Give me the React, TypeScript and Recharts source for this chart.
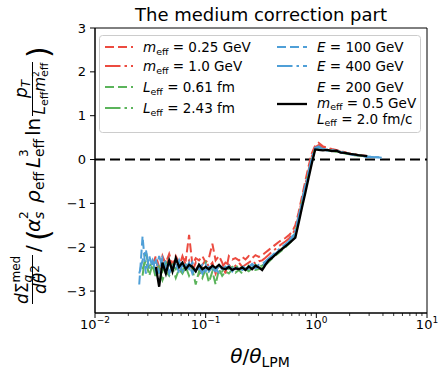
import React from 'react';
import { LineChart, Line, XAxis, YAxis, ReferenceLine, ReferenceArea, Legend } from 'recharts';

// theta / theta_LPM grid (log spaced bins)
const theta = [
  0.0251, 0.0269, 0.0288, 0.0309, 0.0331, 0.0355, 0.038, 0.0407, 0.0437, 0.0468,
  0.0501, 0.0537, 0.0575, 0.0617, 0.0661, 0.0708, 0.0759, 0.0813, 0.0871, 0.0933,
  0.1, 0.107, 0.115, 0.123, 0.132, 0.141, 0.151, 0.162, 0.174, 0.186,
  0.2, 0.214, 0.229, 0.245, 0.263, 0.282,
  0.302, 0.324, 0.347, 0.372, 0.398, 0.427, 0.457, 0.49, 0.525, 0.562,
  0.603, 0.646, 0.692, 0.741, 0.794, 0.851, 0.912, 0.977, 1.047,
  1.148, 1.259, 1.38, 1.514, 1.66, 1.82, 1.995, 2.188, 2.399, 2.63, 2.884,
  3.2, 3.55, 3.9,
];

const mEff025 = [
  null, null, null, null, -2.4, -2.2, -2.45, -2.25, -2.35, -2.15,
  -2.4, -2.2, -2.35, -2.25, -2.3, -1.72, -2.4, -2.25, -2.3, -2.2,
  -2.35, -2.25, -1.92, -2.3, -2.2, -2.35, -2.6, -2.2, -2.28, -2.25,
  -2.3, -2.22, -2.28, -2.2, -2.25, -2.18,
  -2.22, -2.18, -2.12, -2.06, -2.0, -1.94, -1.88, -1.83, -1.79, -1.73,
  -1.65, -1.5, -1.2, -0.85, -0.5, -0.15, 0.15, 0.32, 0.38,
  0.3, 0.27, 0.24, 0.22, 0.2, 0.16, 0.14, 0.12, 0.1, 0.08, 0.07,
  null, null, null,
];

const mEff10 = [
  null, null, null, null, null, -2.3, -2.55, -2.2, -2.4, -2.25,
  -2.5, -2.3, -2.45, -2.2, -2.4, -2.3, -2.55, -2.35, -2.6, -2.4,
  -2.3, -2.45, -2.35, -2.6, -2.4, -2.45, -2.35, -2.4, -2.5, -2.42,
  -2.35, -2.45, -2.4, -2.35, -2.3, -2.38,
  -2.32, -2.3, -2.24, -2.17, -2.1, -2.04, -1.98, -1.92, -1.87, -1.81,
  -1.72, -1.58, -1.28, -0.92, -0.58, -0.24, 0.08, 0.28, 0.33,
  0.28, 0.25, 0.22, 0.2, 0.18, 0.16, 0.14, 0.12, 0.1, 0.09, 0.08,
  null, null, null,
];

const lEff061 = [
  null, -2.5, -2.3, -2.65, -2.4, -2.7, -2.5, -2.75, -2.55, -2.65,
  -2.45, -2.7, -2.5, -2.6, -2.45, -2.65, -2.5, -2.85, -2.55, -2.7,
  -2.5, -2.8, -2.55, -2.85, -2.5, -2.65, -2.55, -2.6, -2.5, -2.58,
  -2.52, -2.6, -2.5, -2.55, -2.48, -2.52,
  -2.5, -2.47, -2.4, -2.33, -2.26, -2.19, -2.13, -2.07, -2.0, -1.93,
  -1.85, -1.72, -1.4, -1.05, -0.7, -0.36, -0.02, 0.22, 0.26,
  0.23, 0.2, 0.2, 0.18, 0.16, 0.14, 0.12, 0.1, 0.09, 0.08, 0.07,
  null, null, null,
];

const lEff243 = [
  null, -2.65, -2.1, -2.5, -2.3, -2.6, -2.4, -2.55, -2.35, -2.6,
  -2.4, -2.5, -2.35, -2.55, -2.4, -2.5, -2.45, -2.55, -2.4, -2.5,
  -2.35, -2.55, -2.45, -2.5, -2.4, -2.55, -2.45, -2.5, -2.45, -2.4,
  -2.5, -2.45, -2.52, -2.42, -2.48, -2.4,
  -2.44, -2.42, -2.36, -2.29, -2.23, -2.16, -2.1, -2.03, -1.97, -1.91,
  -1.82, -1.66, -1.33, -0.98, -0.63, -0.3, 0.03, 0.24, 0.27,
  0.24, 0.21, 0.22, 0.19, 0.17, 0.15, 0.13, 0.11, 0.1, 0.08, 0.07,
  null, null, null,
];

const e100 = [
  -2.85, -1.75, -2.6, -2.2, -2.45, -2.3, -2.6, -2.25, -2.5, -2.35,
  -2.55, -2.3, -2.6, -2.4, -2.5, -2.35, -2.6, -2.45, -2.5, -2.4,
  -2.55, -2.45, -2.5, -2.55, -2.42, -2.5, -2.45, -2.55, -2.48, -2.5,
  -2.45, -2.52, -2.48, -2.5, -2.42, -2.48,
  -2.45, -2.43, -2.36, -2.28, -2.22, -2.15, -2.08, -2.02, -1.96, -1.9,
  -1.8, -1.68, -1.35, -1.0, -0.65, -0.32, 0.0, 0.25, 0.3,
  0.25, 0.22, 0.2, 0.21, 0.17, 0.15, 0.12, 0.11, 0.09, 0.08, 0.07,
  0.06, 0.05, 0.04,
];

const e400 = [
  -2.6, -2.3, -2.05, -2.5, -2.3, -2.55, -2.2, -2.45, -2.3, -2.6,
  -2.4, -2.5, -2.3, -2.55, -2.4, -2.5, -2.35, -2.55, -2.45, -2.6,
  -2.4, -2.55, -2.45, -2.5, -2.58, -2.45, -2.5, -2.42, -2.55, -2.45,
  -2.5, -2.42, -2.5, -2.45, -2.38, -2.45,
  -2.4, -2.38, -2.32, -2.25, -2.19, -2.12, -2.05, -1.99, -1.93, -1.87,
  -1.76, -1.62, -1.3, -0.95, -0.6, -0.28, 0.05, 0.27, 0.28,
  0.24, 0.2, 0.23, 0.19, 0.16, 0.15, 0.13, 0.1, 0.1, 0.08, 0.06,
  0.06, 0.05, 0.05,
];

// E = 200 GeV, m_eff = 0.5 GeV, L_eff = 2.0 fm/c
const reference = [
  null, null, null, null, null, -2.45, -2.9, -2.35, -2.6, -2.3,
  -2.55, -2.25, -2.45, -2.35, -2.5, -2.4, -2.45, -2.55, -2.4, -2.5,
  -2.45, -2.5, -2.42, -2.47, -2.4, -2.48, -2.5, -2.45, -2.52, -2.48,
  -2.5, -2.46, -2.52, -2.44, -2.5, -2.42,
  -2.46, -2.52, -2.4, -2.3, -2.24, -2.17, -2.1, -2.04, -1.98, -1.92,
  -1.85, -1.78, -1.45, -1.1, -0.77, -0.42, -0.08, 0.23, 0.22,
  0.21, 0.22, 0.19, 0.2, 0.16, 0.15, 0.13, 0.12, 0.1, 0.09, 0.08,
  null, null, null,
];

const majorTicks = [0.01, 0.1, 1, 10];
const minorTicks = [
  0.02, 0.03, 0.04, 0.05, 0.06, 0.07, 0.08, 0.09,
  0.2, 0.3, 0.4, 0.5, 0.6, 0.7, 0.8, 0.9,
  2, 3, 4, 5, 6, 7, 8, 9,
];
const yTicks = [-3, -2, -1, 0, 1, 2, 3];

const FONT = 'DejaVu Sans';
const RED = '#ec4b40';
const GREEN = '#5bb45b';
const BLUE = '#4f9fd7';
const DASHED = '9 4';
const DASHDOT = '15.5 4 2.5 4';

const rows = theta.map((t, i) => ({
  theta: t,
  m025: mEff025[i],
  m10: mEff10[i],
  l061: lEff061[i],
  l243: lEff243[i],
  e100: e100[i],
  e400: e400[i],
  ref: reference[i],
}));

type Part = { t: string; it?: boolean; sub?: boolean };

const series: { key: string; color: string; dash?: string; width: number; label: Part[][] }[] = [
  { key: 'm025', color: RED, dash: DASHED, width: 2, label: [[{ t: 'm', it: true }, { t: 'eff', sub: true }, { t: ' = 0.25 GeV' }]] },
  { key: 'm10', color: RED, dash: DASHDOT, width: 2, label: [[{ t: 'm', it: true }, { t: 'eff', sub: true }, { t: ' = 1.0 GeV' }]] },
  { key: 'l061', color: GREEN, dash: DASHED, width: 2, label: [[{ t: 'L', it: true }, { t: 'eff', sub: true }, { t: ' = 0.61 fm' }]] },
  { key: 'l243', color: GREEN, dash: DASHDOT, width: 2, label: [[{ t: 'L', it: true }, { t: 'eff', sub: true }, { t: ' = 2.43 fm' }]] },
  { key: 'e100', color: BLUE, dash: DASHED, width: 2, label: [[{ t: 'E', it: true }, { t: ' = 100 GeV' }]] },
  { key: 'e400', color: BLUE, dash: DASHDOT, width: 2, label: [[{ t: 'E', it: true }, { t: ' = 400 GeV' }]] },
  {
    key: 'ref', color: '#000', width: 2.3, label: [
      [{ t: 'E', it: true }, { t: ' = 200 GeV' }],
      [{ t: 'm', it: true }, { t: 'eff', sub: true }, { t: ' = 0.5 GeV' }],
      [{ t: 'L', it: true }, { t: 'eff', sub: true }, { t: ' = 2.0 fm/c' }],
    ],
  },
];

const spans = (parts: Part[], fs: number) => {
  let shift = 0;
  return parts.map((p, i) => {
    const target = p.sub ? fs * 0.22 : 0;
    const dy = target - shift;
    shift = target;
    return (
      <tspan key={i} dy={dy} fontStyle={p.it ? 'italic' : 'normal'} fontSize={p.sub ? fs * 0.7 : fs}>
        {p.t}
      </tspan>
    );
  });
};

const supNum = (v: number) => String(Math.round(Math.log10(v))).replace('-', '\u2212');

const renderXTick = (props: any) => {
  const { x, y, payload } = props;
  const major = majorTicks.some((m) => Math.abs(m - payload.value) < 1e-9);
  return (
    <g>
      <line x1={x} x2={x} y1={y} y2={y + (major ? 5 : 3)} stroke="#000" strokeWidth={major ? 1 : 0.8} />
      {major && (
        <text x={x} y={y + 7} dy="0.71em" textAnchor="middle" fontSize={13} fontFamily={FONT} fill="#000">
          10
          <tspan dy={-6} fontSize={9}>{supNum(payload.value)}</tspan>
        </text>
      )}
    </g>
  );
};

const Titles = () => (
  <g fontFamily={FONT} fill="#000">
    <text x={261} y={21} textAnchor="middle" fontSize={18}>The medium correction part</text>
    <text x={260} y={363} textAnchor="middle" fontSize={20}>
      <tspan fontStyle="italic">θ</tspan>/<tspan fontStyle="italic">θ</tspan>
      <tspan fontSize={14} dy={4}>LPM</tspan>
    </text>
  </g>
);

// rotated y label: local (u, v) -> screen (v, -u)
const YLabel = () => {
  const P = (u: number, v: number, fs: number, t: string, it = false) => (
    <text x={u} y={v} fontSize={fs} fontStyle={it ? 'italic' : 'normal'}>{t}</text>
  );
  return (
    <g transform="rotate(-90)" fontFamily={FONT} fill="#000">
      {P(-304, 28, 17, 'd', true)}
      {P(-293.2, 28, 17, 'Σ')}
      {P(-282.5, 20, 12, 'med')}
      {P(-282.5, 31.5, 12, 'q', true)}
      <line x1={-304} x2={-255} y1={32.5} y2={32.5} stroke="#000" strokeWidth={1} />
      <text x={-279.5} y={46} textAnchor="middle" fontSize={17}>
        <tspan fontStyle="italic">dθ</tspan>
        <tspan dy={-7} fontSize={12}>2</tspan>
      </text>
      {P(-252, 40, 20, '/')}
      {P(-241, 49, 30, '(')}
      {P(-232, 40, 20, 'α', true)}
      {P(-219, 28, 12, '2')}
      {P(-219, 44, 14, 's', true)}
      {P(-203, 40, 20, 'ρ', true)}
      {P(-190, 44, 14, 'eff')}
      {P(-168, 40, 20, 'L', true)}
      {P(-157, 28, 12, '3')}
      {P(-157, 44, 14, 'eff')}
      {P(-136, 40, 20, 'ln')}
      <line x1={-116} x2={-62} y1={32.5} y2={32.5} stroke="#000" strokeWidth={1} />
      <text x={-89} y={27} textAnchor="middle" fontSize={17}>
        <tspan fontStyle="italic">p</tspan>
        <tspan dy={3} fontSize={12} fontStyle="italic">T</tspan>
      </text>
      {P(-114.5, 45, 15, 'L', true)}
      {P(-106, 48, 11, 'eff')}
      {P(-91.5, 45, 15, 'm', true)}
      {P(-77, 39, 9, '2')}
      {P(-77, 48, 11, 'eff')}
      {P(-58, 49, 30, ')')}
    </g>
  );
};

const LegendBox = () => {
  const fs = 13.5;
  const left = series.slice(0, 4);
  const right = series.slice(4);
  const leftY = [12, 31, 52, 73];
  const rightY = [12, 31, 69];
  const rightText = [[17], [36], [56.5, 72.5, 88.5]];
  return (
    <svg width={322} height={98} style={{ display: 'block' }} fontFamily={FONT}>
      <rect x={0.5} y={0.5} width={321} height={97} rx={3} fill="#fff" fillOpacity={0.85} stroke="#cccccc" />
      {left.map((s, i) => (
        <g key={s.key}>
          <line x1={6} x2={34} y1={leftY[i]} y2={leftY[i]} stroke={s.color} strokeWidth={s.width} strokeDasharray={s.dash} />
          <text x={44} y={leftY[i] + 5} fontSize={fs} fill="#000">{spans(s.label[0], fs)}</text>
        </g>
      ))}
      {right.map((s, i) => (
        <g key={s.key}>
          <line x1={178} x2={208} y1={rightY[i]} y2={rightY[i]} stroke={s.color} strokeWidth={s.width} strokeDasharray={s.dash} />
          {s.label.map((ln, j) => (
            <text key={j} x={218} y={rightText[i][j]} fontSize={fs} fill="#000">{spans(ln, fs)}</text>
          ))}
        </g>
      ))}
    </svg>
  );
};

export default function App() {
  return (
    <div style={{ position: 'absolute', left: 0, top: 0, width: 443, height: 369, background: '#fff' }}>
      <LineChart width={443} height={369} data={rows} margin={{ top: 28, right: 16, bottom: 0, left: 0 }}>
        <XAxis
          dataKey="theta"
          type="number"
          scale="log"
          domain={[0.01, 10]}
          allowDataOverflow
          ticks={[...majorTicks, ...minorTicks]}
          interval={0}
          tickSize={0}
          tickMargin={0}
          tickLine={false}
          axisLine={{ stroke: '#000' }}
          tick={renderXTick}
          height={56}
          label={{ content: Titles }}
        />
        <YAxis
          type="number"
          domain={[-3.5, 3]}
          allowDataOverflow
          ticks={yTicks}
          interval={0}
          tickFormatter={(v: number) => String(v).replace('-', '\u2212')}
          tickSize={5}
          tickMargin={4}
          width={95}
          axisLine={{ stroke: '#000' }}
          tickLine={{ stroke: '#000' }}
          tick={{ fill: '#000', fontSize: 13, fontFamily: FONT }}
          label={{ content: YLabel }}
        />
        <ReferenceLine y={0} stroke="#000" strokeWidth={2} strokeDasharray="10 5" />
        {series.map((s) => (
          <Line
            key={s.key}
            type="linear"
            dataKey={s.key}
            stroke={s.color}
            strokeWidth={s.width}
            strokeDasharray={s.dash}
            dot={false}
            activeDot={false}
            isAnimationActive={false}
          />
        ))}
        <ReferenceArea x1={0.01} x2={10} y1={-3.5} y2={3} fill="none" fillOpacity={0} stroke="#000" strokeWidth={1} />
        <Legend
          layout="vertical"
          align="center"
          verticalAlign="middle"
          content={() => <LegendBox />}
          wrapperStyle={{ left: 99, top: 35, width: 322, height: 98 }}
        />
      </LineChart>
    </div>
  );
}
